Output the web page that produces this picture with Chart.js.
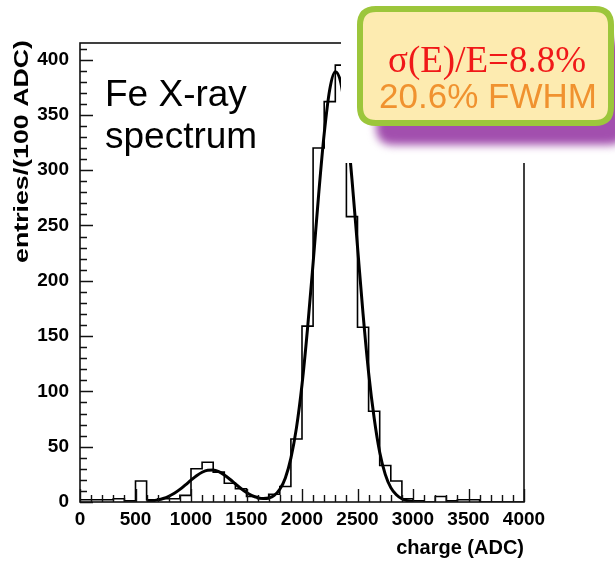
<!DOCTYPE html>
<html>
<head>
<meta charset="utf-8">
<title>Fe X-ray spectrum</title>
<script src="https://cdn.jsdelivr.net/npm/chart.js@4.4.1/dist/chart.umd.min.js"></script>
<style>
  html, body { margin: 0; padding: 0; background: #fff; }
  #c { display: block; }
</style>
</head>
<body>
<canvas id="c" width="615" height="564"></canvas>
<script>
// histogram: lower edge of each 100 ADC bin and its entries
const binLow = [0, 100, 200, 300, 400, 500, 600, 700, 800, 900,
                1000, 1100, 1200, 1300, 1400, 1500, 1600, 1700, 1800, 1900,
                2000, 2100, 2200, 2300, 2400, 2500, 2600, 2700, 2800, 2900,
                3000, 3100, 3200, 3300, 3400, 3500, 3600, 3700, 3800, 3900];
const entries = [2, 2, 2, 3, 1, 19, 2, 3, 3, 6,
                 30, 36, 27, 17, 12, 5, 3, 7, 14, 57,
                 159, 320, 362, 395, 258, 158, 82, 33, 19, 3,
                 1, 0, 5, 1, 2, 2, 0, 0, 0, 0];
const binUpper = 4000;

// fitted curve (two peaks), sampled every 50 ADC
const fitX = [600, 650, 700, 750, 800, 850, 900, 950, 1000, 1050,
              1100, 1150, 1200, 1250, 1300, 1350, 1400, 1450, 1500, 1550,
              1600, 1650, 1700, 1750, 1800, 1850, 1900, 1950, 2000, 2050,
              2100, 2150, 2200, 2250, 2300, 2350, 2400, 2450, 2500, 2550,
              2600, 2650, 2700, 2750, 2800, 2850, 2900, 2950, 3000];
const fitY = [0.5, 1, 1.9, 3.2, 5.2, 7.9, 11.4, 15.5, 19.7, 23.7,
              26.9, 28.7, 28.9, 27.4, 24.4, 20.6, 16.3, 12.2, 8.6, 5.8,
              4, 3.1, 3.6, 6, 11.5, 21.8, 39.7, 67, 106, 157,
              216, 278, 333, 373, 389, 379, 344, 292, 231, 170,
              117, 76, 45, 25, 13, 6.5, 2.9, 1.2, 0.5];

const xTicks = [0, 500, 1000, 1500, 2000, 2500, 3000, 3500, 4000];
const yTicks = [0, 50, 100, 150, 200, 250, 300, 350, 400];

const histPoints = binLow.map((x, i) => ({x: x, y: entries[i]}));
histPoints.push({x: binUpper, y: entries[entries.length - 1]});
const fitPoints = fitX.map((x, i) => ({x: x, y: fitY[i]}));

const SANS = '"Liberation Sans", Arial, Helvetica, sans-serif';
const SERIF = '"Liberation Serif", "Times New Roman", serif';

function roundRect(ctx, x, y, w, h, r) {
    ctx.beginPath();
    ctx.moveTo(x + r, y);
    ctx.lineTo(x + w - r, y);
    ctx.quadraticCurveTo(x + w, y, x + w, y + r);
    ctx.lineTo(x + w, y + h - r);
    ctx.quadraticCurveTo(x + w, y + h, x + w - r, y + h);
    ctx.lineTo(x + r, y + h);
    ctx.quadraticCurveTo(x, y + h, x, y + h - r);
    ctx.lineTo(x, y + r);
    ctx.quadraticCurveTo(x, y, x + r, y);
    ctx.closePath();
}

// ROOT style frame: ticks inside the pad, frame on all four sides
const framePlugin = {
    id: 'frame',
    afterDatasetsDraw(chart) {
        const ctx = chart.ctx;
        const a = chart.chartArea;
        const xs = chart.scales.x, ys = chart.scales.y;
        ctx.save();
        ctx.strokeStyle = '#111';
        ctx.lineWidth = 1.4;
        ctx.beginPath();
        for (let v = 0; v <= 4000; v += 100) {
            const px = Math.round(xs.getPixelForValue(v)) + 0.5;
            const len = (v % 500 === 0) ? 13 : 7;
            ctx.moveTo(px, a.bottom);
            ctx.lineTo(px, a.bottom - len);
        }
        for (let v = 0; v <= ys.max; v += 10) {
            const py = Math.round(ys.getPixelForValue(v)) + 0.5;
            const len = (v % 50 === 0) ? 13 : 7;
            ctx.moveTo(a.left, py);
            ctx.lineTo(a.left + len, py);
        }
        ctx.stroke();
        ctx.lineWidth = 1.6;
        ctx.strokeRect(a.left, a.top, a.right - a.left, a.bottom - a.top);
        ctx.restore();
    },
    afterDraw(chart) {
        const ctx = chart.ctx;
        ctx.save();

        // y axis title
        ctx.save();
        ctx.translate(22, 40);
        ctx.rotate(-Math.PI / 2);
        ctx.font = 'bold 21px ' + SANS;
        ctx.fillStyle = '#000';
        ctx.textAlign = 'right';
        ctx.textBaseline = 'middle';
        const yTitle = 'entries/(100 ADC)';
        const w = ctx.measureText(yTitle).width;
        ctx.scale(223 / w, 1);
        ctx.fillText(yTitle, 0, 0);
        ctx.restore();

        // label inside the pad
        ctx.font = '37px ' + SANS;
        ctx.fillStyle = '#000';
        ctx.textAlign = 'left';
        ctx.textBaseline = 'alphabetic';
        ctx.fillText('Fe X-ray', 105, 106);
        ctx.fillText('spectrum', 105, 148);

        // resolution callout
        ctx.fillStyle = '#fff';
        ctx.fillRect(341, 0, 274, 163);

        ctx.save();
        ctx.filter = 'blur(4px)';
        ctx.fillStyle = '#a24fae';
        roundRect(ctx, 376, 40, 250, 105, 18);
        ctx.fill();
        ctx.restore();

        roundRect(ctx, 360, 9, 251, 114, 16);
        ctx.fillStyle = '#fdebb0';
        ctx.fill();
        ctx.lineWidth = 6;
        ctx.strokeStyle = '#9cc63b';
        ctx.stroke();

        ctx.textAlign = 'center';
        ctx.fillStyle = '#f01818';
        ctx.font = '37px ' + SERIF;
        ctx.fillText('\u03c3(E)/E=8.8%', 487, 72);
        ctx.fillStyle = '#f0922f';
        ctx.font = '35px ' + SANS;
        ctx.fillText('20.6% FWHM', 488, 108);

        ctx.restore();
    }
};

const chart = new Chart(document.getElementById('c'), {
    type: 'line',
    data: {
        datasets: [
            {
                label: 'fit',
                data: fitPoints,
                borderColor: '#000',
                borderWidth: 3,
                pointRadius: 0,
                cubicInterpolationMode: 'monotone',
                fill: false
            },
            {
                label: 'entries',
                data: histPoints,
                borderColor: '#000',
                borderWidth: 1.6,
                pointRadius: 0,
                stepped: 'before',
                fill: false
            }
        ]
    },
    options: {
        responsive: false,
        devicePixelRatio: 1,
        animation: false,
        layout: { padding: { left: 0, top: 43, right: 91, bottom: 0 } },
        plugins: {
            legend: { display: false },
            tooltip: { enabled: false }
        },
        scales: {
            x: {
                type: 'linear',
                min: 0,
                max: 4000,
                grid: { display: false },
                border: { display: false },
                afterBuildTicks: (s) => { s.ticks = xTicks.map(v => ({value: v})); },
                afterFit: (s) => { s.height = 62; },
                ticks: {
                    autoSkip: false,
                    maxRotation: 0,
                    padding: -2,
                    color: '#000',
                    font: { family: SANS, size: 19, weight: 'bold' },
                    callback: (v) => String(v)
                },
                title: {
                    display: true,
                    text: 'charge (ADC)',
                    align: 'end',
                    color: '#000',
                    padding: { top: 0, bottom: 4 },
                    font: { family: SANS, size: 20, weight: 'bold' }
                }
            },
            y: {
                type: 'linear',
                min: 0,
                max: 415,
                grid: { display: false },
                border: { display: false },
                afterBuildTicks: (s) => { s.ticks = yTicks.map(v => ({value: v})); },
                afterFit: (s) => { s.width = 80; },
                ticks: {
                    padding: 3,
                    color: '#000',
                    font: { family: SANS, size: 19, weight: 'bold' },
                    callback: (v) => String(v)
                }
            }
        }
    },
    plugins: [framePlugin]
});
</script>
</body>
</html>
